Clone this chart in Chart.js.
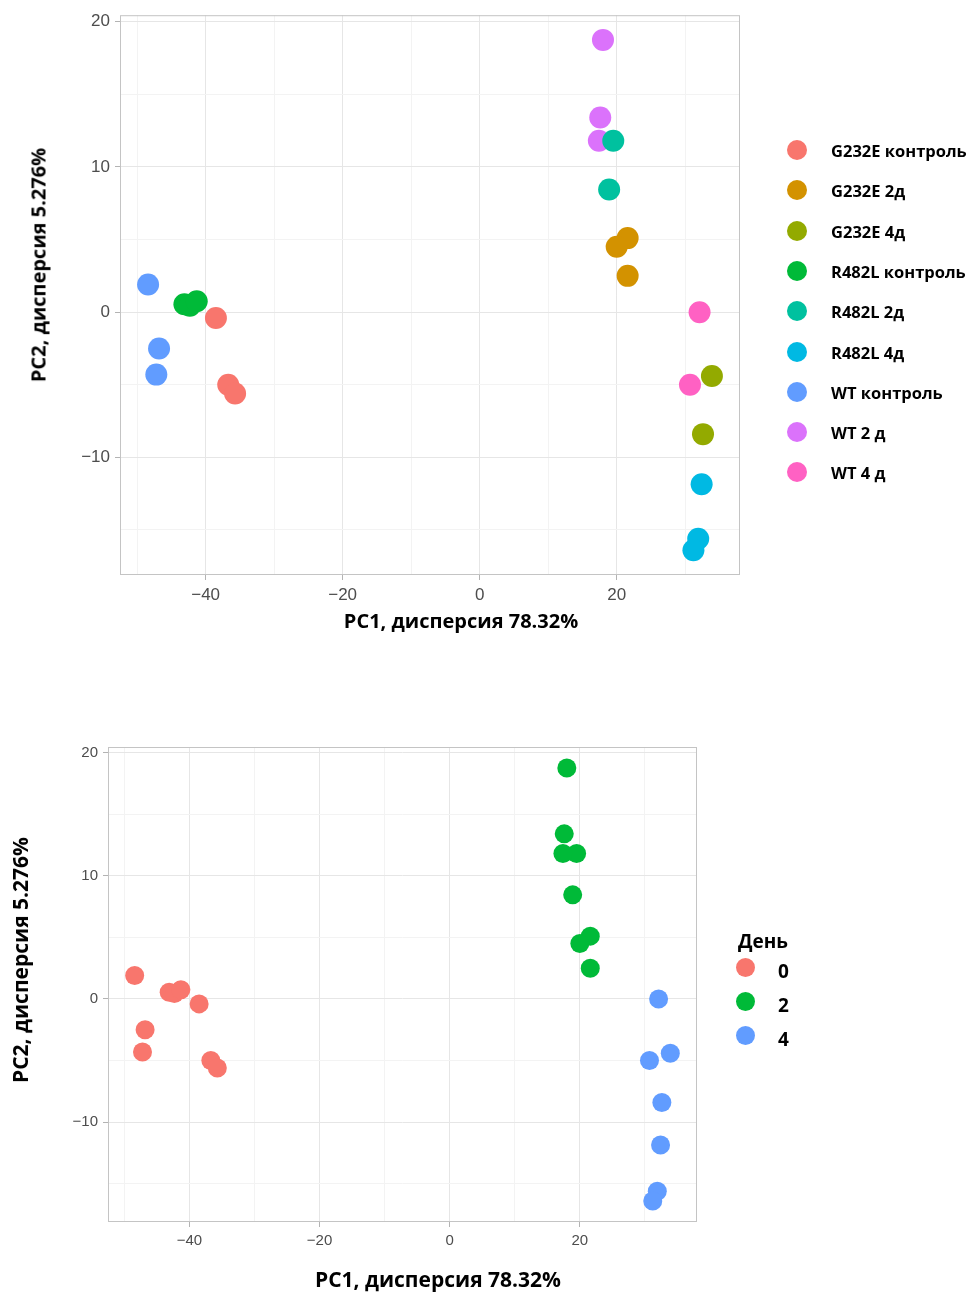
<!DOCTYPE html>
<html lang="ru">
<head>
<meta charset="utf-8">
<title>PCA</title>
<script src="https://cdn.jsdelivr.net/npm/chart.js@4.4.1/dist/chart.umd.min.js"></script>
<style>
  body { margin: 0; width: 971px; height: 1295px; position: relative; background: #fff; font-family: "Open Sans", sans-serif; overflow: hidden; }
  canvas { position: absolute; left: 0; }
  .lbl { position: absolute; font-weight: 700; color: #000; white-space: nowrap; transform: translate(-50%, -50%); }
  .rot { transform: translate(-50%, -50%) rotate(-90deg); }
  .leg { position: absolute; font-weight: 700; color: #000; white-space: nowrap; transform: translateY(-50%); }
  .dot { position: absolute; border-radius: 50%; }
</style>
</head>
<body>
<canvas id="topChart" width="971" height="650" style="top:0"></canvas>
<canvas id="bottomChart" width="971" height="595" style="top:700px"></canvas>

<div class="lbl" style="left:461px; top:620px; font-size:20px">PC1, дисперсия 78.32%</div>
<div class="lbl rot" style="left:38px; top:265px; font-size:20px">PC2, дисперсия 5.276%</div>
<div class="lbl" style="left:438px; top:1279px; font-size:21px">PC1, дисперсия 78.32%</div>
<div class="lbl rot" style="left:20px; top:960px; font-size:21px">PC2, дисперсия 5.276%</div>
<div id="legendTop"></div>
<div id="legendBottom"></div>

<script>
// Groupes (ordre de la légende)
const groups = ['G232E контроль', 'G232E 2д', 'G232E 4д', 'R482L контроль', 'R482L 2д', 'R482L 4д', 'WT контроль', 'WT 2 д', 'WT 4 д'];
const groupColors = ['#F8766D', '#D39200', '#93AA00', '#00BA38', '#00C19F', '#00B9E3', '#619CFF', '#DB72FB', '#FF61C3'];
const groupDay = [0, 2, 4, 0, 2, 4, 0, 2, 4];

// PC1 / PC2 par groupe
const pc1 = [
  [-38.5, -36.7, -35.7],
  [21.6, 20.0, 21.6],
  [33.9, 32.6],
  [-43.1, -42.3, -41.3],
  [19.5, 18.9],
  [32.4, 31.9, 31.2],
  [-48.4, -46.8, -47.2],
  [18.0, 17.6, 17.4],
  [32.1, 30.7]
];
const pc2 = [
  [-0.4, -5.0, -5.6],
  [5.1, 4.5, 2.5],
  [-4.4, -8.4],
  [0.55, 0.45, 0.75],
  [11.8, 8.45],
  [-11.85, -15.6, -16.4],
  [1.9, -2.5, -4.3],
  [18.75, 13.4, 11.8],
  [0.0, -5.0]
];

const days = [0, 2, 4];
const dayColors = ['#F8766D', '#00BA38', '#619CFF'];

// Graduations
const xGrid = [-50, -40, -30, -20, -10, 0, 10, 20, 30];
const xLabels = [-40, -20, 0, 20];
const yGrid = [-15, -10, -5, 0, 5, 10, 15, 20];
const yLabels = [-10, 0, 10, 20];

// Cadre du panneau (comme ggplot)
const panelBorder = {
  id: 'panelBorder',
  afterDraw(chart) {
    const a = chart.chartArea, c = chart.ctx;
    c.save();
    c.strokeStyle = '#C4C4C4';
    c.lineWidth = 1;
    c.strokeRect(a.left + 0.5, a.top + 0.5, a.right - a.left - 1, a.bottom - a.top - 1);
    c.restore();
  }
};

function axis(min, max, gridValues, labelValues, fontSize, fitSize, horizontal) {
  const major = c => c.tick && labelValues.includes(c.tick.value);
  return {
    type: 'linear', min: min, max: max,
    afterBuildTicks: s => { s.ticks = gridValues.map(v => ({ value: v })); },
    afterFit: s => { if (horizontal) s.height = fitSize; else s.width = fitSize; },
    grid: {
      color: c => major(c) ? '#E6E6E6' : '#F3F3F3',
      tickColor: c => major(c) ? '#B3B3B3' : 'rgba(0,0,0,0)',
      tickLength: 5,
      lineWidth: 1
    },
    border: { display: false },
    ticks: {
      autoSkip: false, maxRotation: 0, padding: 5,
      color: '#4D4D4D',
      font: { family: 'Liberation Sans', size: fontSize },
      callback: v => labelValues.includes(v) ? (v < 0 ? '\u2212' + Math.abs(v) : String(v)) : ''
    }
  };
}

function pts(i) {
  return pc1[i].map((x, j) => ({ x: x, y: pc2[i][j] }));
}

// Graphique du haut : par groupe
new Chart(document.getElementById('topChart'), {
  type: 'scatter',
  data: {
    datasets: groups.map((g, i) => ({
      label: g,
      data: pts(i),
      pointBackgroundColor: groupColors[i],
      pointBorderWidth: 0,
      pointRadius: 11,
      pointHoverRadius: 11
    }))
  },
  options: {
    responsive: false,
    animation: false,
    layout: { padding: { top: 11, right: 231, left: 0, bottom: 0 } },
    plugins: { legend: { display: false }, tooltip: { enabled: false } },
    scales: {
      x: axis(-52.5, 38, xGrid, xLabels, 17, 75, true),
      y: axis(-18.1, 20.45, yGrid, yLabels, 17, 120, false)
    }
  },
  plugins: [panelBorder]
});

// Graphique du bas : par jour
new Chart(document.getElementById('bottomChart'), {
  type: 'scatter',
  data: {
    datasets: days.map((d, k) => ({
      label: String(d),
      data: groups.flatMap((g, i) => groupDay[i] === d ? pts(i) : []),
      pointBackgroundColor: dayColors[k],
      pointBorderWidth: 0,
      pointRadius: 9.5,
      pointHoverRadius: 9.5
    }))
  },
  options: {
    responsive: false,
    animation: false,
    layout: { padding: { top: 47, right: 274, left: 0, bottom: 0 } },
    plugins: { legend: { display: false }, tooltip: { enabled: false } },
    scales: {
      x: axis(-52.5, 38, xGrid, xLabels, 15, 73, true),
      y: axis(-18.1, 20.45, yGrid, yLabels, 15, 108, false)
    }
  },
  plugins: [panelBorder]
});

// Légendes
let html = '';
groups.forEach((g, i) => {
  const y = 150 + i * 40.3;
  html += `<div class="dot" style="left:787px; top:${y - 10}px; width:20px; height:20px; background:${groupColors[i]}"></div>`;
  html += `<div class="leg" style="left:831px; top:${y}px; font-size:16.5px">${g}</div>`;
});
document.getElementById('legendTop').innerHTML = html;

html = '<div class="leg" style="left:738px; top:941px; font-size:19px">День</div>';
days.forEach((d, k) => {
  const y = 967 + k * 34;
  html += `<div class="dot" style="left:736px; top:${y - 9.5}px; width:19px; height:19px; background:${dayColors[k]}"></div>`;
  html += `<div class="leg" style="left:778px; top:${y + 4}px; font-size:19px">${d}</div>`;
});
document.getElementById('legendBottom').innerHTML = html;
</script>
</body>
</html>
